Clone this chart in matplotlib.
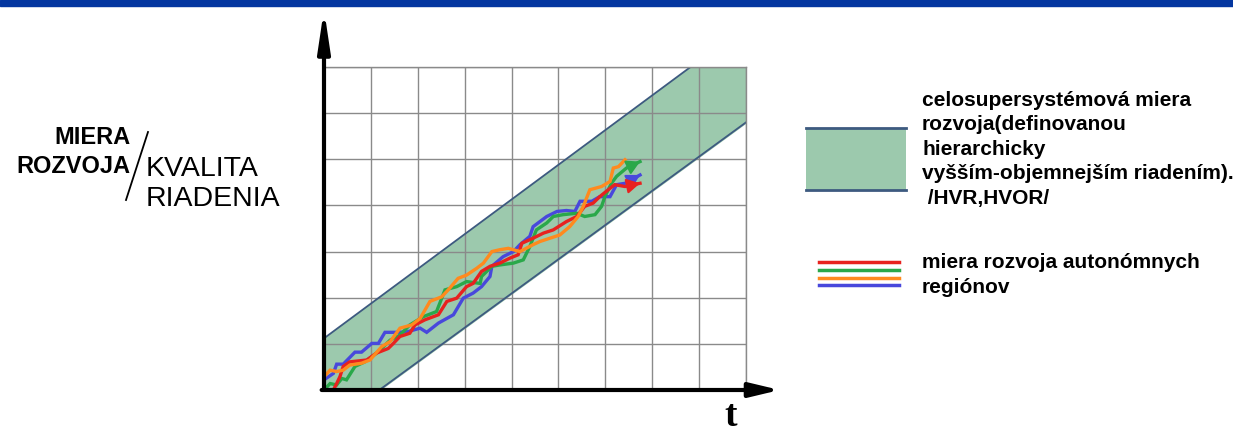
import matplotlib.pyplot as plt
from matplotlib.patches import Rectangle

plt.rcParams['font.family'] = ['Liberation Sans', 'DejaVu Sans']

# Band of the whole-supersystem development measure (lower/upper edge at x=0 and x=9)
band_x = [0, 9]
band_lower = [-0.875, 5.80]
band_upper = [1.12, 7.89]

# Development measure of autonomous regions
blue_x = [0, 0.2, 0.27, 0.41, 0.66, 0.80, 1.02, 1.16, 1.30, 1.58, 1.77, 2.05, 2.19, 2.44, 2.76, 2.97,
          3.18, 3.36, 3.54, 3.58, 3.82, 4.04, 4.18, 4.39, 4.46, 4.75, 4.97, 5.17, 5.35, 5.46, 5.71,
          5.88, 6.10, 6.24, 6.42, 6.74]
blue_y = [0.22, 0.36, 0.56, 0.56, 0.82, 0.82, 1.01, 1.01, 1.25, 1.25, 1.26, 1.34, 1.25, 1.45, 1.63, 1.99,
          2.10, 2.24, 2.46, 2.68, 2.89, 3.00, 3.15, 3.33, 3.54, 3.76, 3.87, 3.89, 3.87, 4.09, 4.09,
          4.19, 4.19, 4.45, 4.48, 4.66]

red_x = [0.2, 0.27, 0.34, 0.41, 0.55, 0.91, 1.12, 1.37, 1.48, 1.62, 1.83, 1.94, 2.15, 2.44, 2.62, 2.83,
         3.04, 3.18, 3.36, 3.54, 3.75, 3.97, 4.14, 4.22, 4.46, 4.68, 4.89, 5.17, 5.39, 5.56, 5.74,
         5.88, 6.10, 6.20, 6.42, 6.74]
red_y = [0.0, 0.14, 0.29, 0.51, 0.61, 0.65, 0.80, 0.90, 1.01, 1.16, 1.23, 1.41, 1.52, 1.63, 1.92, 1.99,
         2.24, 2.31, 2.57, 2.68, 2.75, 2.86, 2.93, 3.18, 3.29, 3.40, 3.47, 3.65, 3.76, 3.98, 4.05,
         4.19, 4.37, 4.45, 4.41, 4.48]

green_x = [0, 0.13, 0.27, 0.38, 0.48, 0.66, 0.87, 1.16, 1.41, 1.62, 1.83, 2.12, 2.40, 2.58, 2.83, 3.04,
           3.33, 3.36, 3.58, 3.75, 4.04, 4.25, 4.39, 4.53, 4.75, 4.89, 5.10, 5.39, 5.56, 5.78, 5.92,
           5.99, 6.13, 6.24, 6.45, 6.74]
green_y = [0.0, 0.14, 0.11, 0.25, 0.22, 0.51, 0.61, 0.83, 1.08, 1.19, 1.41, 1.59, 1.70, 2.17, 2.24, 2.35,
           2.31, 2.46, 2.68, 2.71, 2.75, 2.82, 3.11, 3.47, 3.62, 3.76, 3.80, 3.83, 3.76, 3.80, 3.98,
           4.19, 4.48, 4.63, 4.81, 4.95]

orange_x = [0, 0.13, 0.27, 0.41, 0.55, 0.80, 0.98, 1.23, 1.41, 1.62, 1.87, 2.05, 2.26, 2.51, 2.65, 2.86,
            3.04, 3.26, 3.40, 3.58, 3.75, 3.93, 4.18, 4.46, 4.61, 4.82, 5.03, 5.24, 5.42, 5.53, 5.67,
            5.92, 6.10, 6.17, 6.28, 6.42]
orange_y = [0.29, 0.43, 0.40, 0.43, 0.54, 0.58, 0.65, 0.94, 1.05, 1.34, 1.41, 1.55, 1.92, 2.02, 2.17, 2.42,
            2.49, 2.64, 2.75, 3.00, 3.04, 3.07, 3.00, 3.15, 3.22, 3.29, 3.36, 3.54, 3.76, 3.98, 4.34,
            4.41, 4.52, 4.81, 4.84, 4.99]

legend_band = ['celosupersystémová miera', 'rozvoja(definovanou', 'hierarchicky',
               'vyšším-objemnejším riadením).', ' /HVR,HVOR/']
legend_lines = ['miera rozvoja autonómnych', 'regiónov']

band_color = '#9cc9ad'
edge_color = '#3d5a80'
c_red, c_green, c_orange, c_blue = '#e8221f', '#2aa84a', '#ff8a1e', '#4848dc'

fig = plt.figure(figsize=(12.33, 4.36), dpi=100)

# overlay in pixel units for labels and legend
ov = fig.add_axes([0, 0, 1, 1])
ov.set_xlim(0, 1233)
ov.set_ylim(436, 0)
ov.axis('off')

ov.add_patch(Rectangle((0, 0), 1233, 6, color='#0336a0'))

# left axis label
ov.text(130, 137, 'MIERA', ha='right', va='center', fontsize=17, fontweight='bold')
ov.text(130, 166, 'ROZVOJA', ha='right', va='center', fontsize=17, fontweight='bold')
ov.plot([148, 126], [132, 200], color='black', lw=1.3)
ov.text(146, 169, 'KVALITA', ha='left', va='center', fontsize=20.5)
ov.text(146, 199, 'RIADENIA', ha='left', va='center', fontsize=20.5)

ov.text(731, 416, 't', ha='center', va='center', fontsize=27, fontweight='bold',
        family='Liberation Serif')

# legend
ov.add_patch(Rectangle((806, 128), 100, 62, facecolor=band_color, edgecolor='none'))
ov.plot([806, 906], [128, 128], color=edge_color, lw=2)
ov.plot([806, 906], [190, 190], color=edge_color, lw=2)
for i, s in enumerate(legend_band):
    ov.text(922, 100 + i * 24.5, s, ha='left', va='center', fontsize=15, fontweight='bold')

for yy, c in zip([262, 270, 278, 285], [c_red, c_green, c_orange, c_blue]):
    ov.plot([819, 899], [yy, yy], color=c, lw=2.5)
for i, s in enumerate(legend_lines):
    ov.text(922, 262 + i * 25, s, ha='left', va='center', fontsize=15, fontweight='bold')

# main chart
ax = fig.add_axes([324 / 1233, 46 / 436, 422 / 1233, 323 / 436])
ax.set_xlim(0, 9)
ax.set_ylim(0, 7)
ax.set_xticks(range(10))
ax.set_yticks(range(8))
ax.grid(True, color='#8a8a8a', lw=1)
ax.tick_params(length=0, labelbottom=False, labelleft=False)
for sp in ax.spines.values():
    sp.set_color('#8a8a8a')
    sp.set_linewidth(1)
ax.patch.set_alpha(0)

ax.fill_between(band_x, band_lower, band_upper, color=band_color, zorder=1)
ax.plot(band_x, band_lower, color=edge_color, lw=1.3, zorder=2)
ax.plot(band_x, band_upper, color=edge_color, lw=1.3, zorder=2)

for xs, ys, c, arrow in [(blue_x, blue_y, c_blue, True), (green_x, green_y, c_green, True),
                         (red_x, red_y, c_red, True), (orange_x, orange_y, c_orange, False)]:
    ax.plot(xs, ys, color=c, lw=2.4, zorder=3, solid_joinstyle='miter')
    if arrow:
        ax.annotate('', xy=(xs[-1], ys[-1]), xytext=(xs[-2], ys[-2]),
                    arrowprops=dict(arrowstyle='-|>,head_length=0.8,head_width=0.45',
                                    color=c, lw=1.5, shrinkA=0, shrinkB=0), zorder=4)

# axes with arrows
ax.annotate('', xy=(0, 8.25), xytext=(0, 0), annotation_clip=False,
            arrowprops=dict(arrowstyle='-|>,head_length=2.4,head_width=0.36',
                            color='black', lw=3, shrinkA=0, shrinkB=0))
ax.annotate('', xy=(9.72, 0), xytext=(-0.05, 0), annotation_clip=False,
            arrowprops=dict(arrowstyle='-|>,head_length=1.8,head_width=0.43',
                            color='black', lw=3, shrinkA=0, shrinkB=0))

fig.savefig('out.png', dpi=100)
